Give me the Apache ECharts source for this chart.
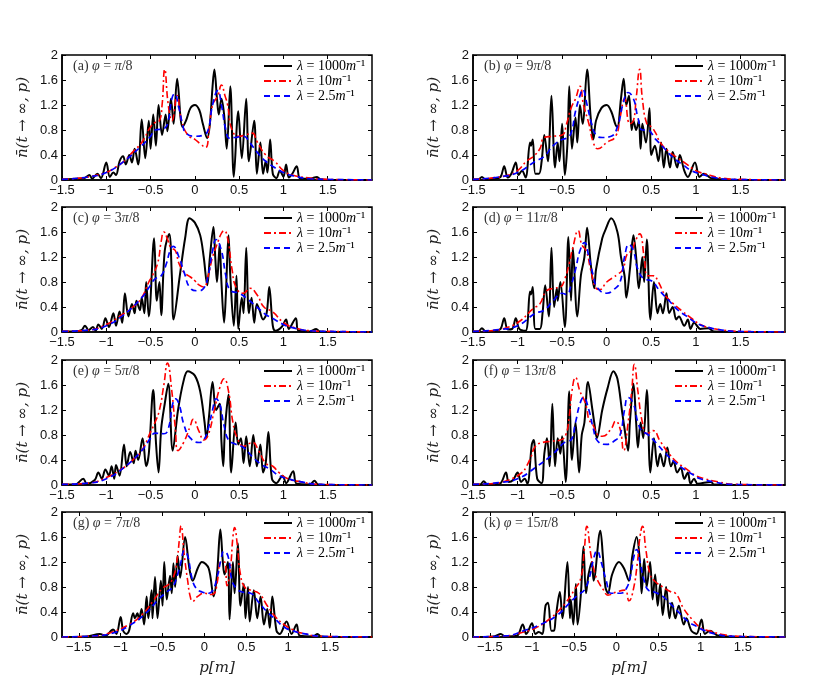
<!DOCTYPE html>
<html>
<head>
<meta charset="utf-8">
<title>n(t, p) panels</title>
<script src="https://cdn.jsdelivr.net/npm/echarts@6.0.0/dist/echarts.min.js"></script>
</head>
<body style="margin:0;padding:0;background:#fff;">
<div id="main" style="width:830px;height:692px;"></div>
<script type="text/javascript">
// tick labels
var xTicks = [-1.5, -1, -0.5, 0, 0.5, 1, 1.5];
var seriesNames = ['λ = 1000m⁻¹', 'λ = 10m⁻¹', 'λ = 2.5m⁻¹'];
var panelLabels = ['(a) {i|φ} = {i|π}/8', '(b) {i|φ} = 9{i|π}/8', '(c) {i|φ} = 3{i|π}/8', '(d) {i|φ} = 11{i|π}/8',
                   '(e) {i|φ} = 5{i|π}/8', '(f) {i|φ} = 13{i|π}/8', '(g) {i|φ} = 7{i|π}/8', '(k) {i|φ} = 15{i|π}/8'];

// (a)
var blackA = [[-1.5,0.01],[-1.35,0.02],[-1.25,0.03],[-1.19,0.08],[-1.16,0.02],[-1.1,0.1],[-1.06,0.03],[-1.0,0.28],[-0.96,0.05],[-0.92,0.12],[-0.89,0.08],[-0.85,0.3],[-0.81,0.38],[-0.78,0.25],[-0.74,0.4],[-0.71,0.28],[-0.68,0.5],[-0.64,0.25],[-0.6,0.97],[-0.56,0.35],[-0.52,0.95],[-0.5,0.5],[-0.47,1.05],[-0.44,0.55],[-0.41,1.2],[-0.37,0.72],[-0.33,1.05],[-0.31,0.78],[-0.27,1.3],[-0.24,0.9],[-0.2,1.62],[-0.14,0.85],[-0.1,0.95],[-0.05,1.15],[0.0,1.2],[0.05,1.12],[0.09,0.9],[0.14,0.67],[0.17,0.9],[0.2,1.5],[0.22,1.77],[0.25,1.3],[0.27,1.05],[0.3,1.3],[0.33,1.05],[0.36,0.5],[0.4,1.5],[0.44,0.05],[0.49,1.1],[0.53,0.35],[0.58,1.3],[0.61,0.3],[0.67,0.95],[0.7,0.1],[0.74,0.6],[0.77,0.1],[0.8,0.3],[0.82,0.12],[0.85,0.65],[0.88,0.1],[0.92,0.03],[0.96,0.15],[1.0,0.05],[1.03,0.25],[1.06,0.04],[1.1,0.1],[1.15,0.22],[1.19,0.02],[1.3,0.02],[1.38,0.05],[1.42,0.01],[1.6,0],[2.0,0]];
var redA = [[-1.5,0.01],[-1.3,0.03],[-1.2,0.05],[-1.0,0.12],[-0.9,0.2],[-0.8,0.3],[-0.7,0.45],[-0.6,0.6],[-0.5,0.85],[-0.45,0.92],[-0.4,0.95],[-0.37,1.2],[-0.34,1.77],[-0.3,1.2],[-0.26,0.95],[-0.2,1.35],[-0.15,0.95],[-0.08,0.72],[0,0.65],[0.06,0.58],[0.12,0.52],[0.16,0.8],[0.2,1.2],[0.26,1.35],[0.3,1.52],[0.34,1.35],[0.37,1.2],[0.42,0.8],[0.5,0.7],[0.57,0.72],[0.65,0.75],[0.7,0.62],[0.8,0.4],[0.9,0.3],[1.0,0.15],[1.1,0.08],[1.3,0.03],[1.5,0.01],[2,0]];
var blueA = [[-1.5,0.01],[-1.2,0.05],[-1.0,0.12],[-0.8,0.3],[-0.6,0.55],[-0.5,0.7],[-0.45,0.8],[-0.35,0.82],[-0.3,0.95],[-0.26,1.3],[-0.23,1.38],[-0.18,1.15],[-0.14,0.9],[-0.1,0.75],[0,0.7],[0.1,0.72],[0.15,0.8],[0.2,1.2],[0.26,1.43],[0.3,1.2],[0.35,0.8],[0.39,0.67],[0.45,0.68],[0.55,0.7],[0.62,0.6],[0.7,0.45],[0.8,0.3],[0.9,0.2],[1.0,0.12],[1.1,0.07],[1.3,0.02],[1.5,0.01],[2,0]];

// (b)
var blackB = [[-1.5,0.01],[-1.44,0.01],[-1.4,0.05],[-1.36,0.01],[-1.25,0.02],[-1.19,0.05],[-1.15,0.22],[-1.11,0.04],[-1.07,0.1],[-1.02,0.28],[-0.99,0.08],[-0.95,0.15],[-0.91,0.04],[-0.86,0.6],[-0.85,0.55],[-0.83,0.65],[-0.8,0.1],[-0.76,0.1],[-0.73,0.3],[-0.7,0.72],[-0.66,0.3],[-0.62,1.35],[-0.58,0.2],[-0.55,0.6],[-0.53,0.3],[-0.5,0.9],[-0.47,0.08],[-0.44,0.6],[-0.42,1.5],[-0.39,0.5],[-0.35,1.0],[-0.33,0.6],[-0.3,1.2],[-0.27,0.9],[-0.22,1.77],[-0.18,1.0],[-0.15,0.65],[-0.12,0.95],[-0.06,1.15],[0.0,1.2],[0.05,1.1],[0.1,0.88],[0.12,0.85],[0.16,1.3],[0.19,1.62],[0.22,1.2],[0.25,1.35],[0.28,0.8],[0.3,0.95],[0.33,0.8],[0.36,0.95],[0.38,0.5],[0.4,0.9],[0.44,0.6],[0.48,1.15],[0.5,0.4],[0.54,0.55],[0.58,0.3],[0.61,0.6],[0.64,0.2],[0.67,0.5],[0.71,0.2],[0.74,0.45],[0.79,0.2],[0.82,0.4],[0.87,0.15],[0.91,0.05],[0.99,0.28],[1.04,0.05],[1.09,0.1],[1.17,0.03],[1.3,0.01],[1.6,0],[2.0,0]];
var redB = [[-1.5,0.01],[-1.3,0.03],[-1.1,0.08],[-1.0,0.15],[-0.9,0.3],[-0.82,0.38],[-0.75,0.5],[-0.7,0.68],[-0.6,0.7],[-0.5,0.72],[-0.45,0.9],[-0.4,1.15],[-0.35,1.3],[-0.3,1.5],[-0.26,1.2],[-0.2,0.9],[-0.15,0.6],[-0.1,0.5],[0,0.6],[0.1,0.7],[0.15,1.0],[0.2,1.3],[0.26,0.9],[0.3,0.95],[0.33,1.3],[0.37,1.77],[0.4,1.3],[0.45,0.9],[0.5,0.85],[0.55,0.75],[0.6,0.6],[0.7,0.45],[0.8,0.35],[0.9,0.25],[1.0,0.15],[1.1,0.1],[1.3,0.03],[1.5,0.01],[2,0]];
var blueB = [[-1.5,0.01],[-1.2,0.05],[-1.0,0.12],[-0.8,0.3],[-0.7,0.38],[-0.6,0.55],[-0.5,0.65],[-0.45,0.67],[-0.4,0.75],[-0.35,1.1],[-0.3,1.35],[-0.27,1.45],[-0.22,1.2],[-0.17,0.9],[-0.12,0.72],[-0.05,0.68],[0.05,0.7],[0.12,0.85],[0.18,1.2],[0.24,1.4],[0.3,1.3],[0.35,1.0],[0.4,0.8],[0.45,0.8],[0.55,0.65],[0.65,0.5],[0.75,0.35],[0.85,0.25],[0.95,0.15],[1.05,0.1],[1.2,0.04],[1.4,0.01],[2,0]];

// (c)
var blackC = [[-1.5,0.01],[-1.35,0.01],[-1.28,0.03],[-1.24,0.1],[-1.2,0.03],[-1.15,0.08],[-1.12,0.02],[-1.09,0.12],[-1.05,0.05],[-1.01,0.22],[-0.97,0.08],[-0.92,0.3],[-0.89,0.1],[-0.85,0.33],[-0.82,0.15],[-0.79,0.62],[-0.75,0.25],[-0.71,0.45],[-0.68,0.3],[-0.66,0.5],[-0.62,0.35],[-0.6,0.55],[-0.57,0.3],[-0.55,0.8],[-0.52,0.25],[-0.46,1.5],[-0.43,0.5],[-0.4,0.8],[-0.38,0.27],[-0.34,1.3],[-0.29,1.57],[-0.26,0.9],[-0.24,0.2],[-0.17,0.9],[-0.11,1.5],[-0.06,1.82],[0.0,1.75],[0.06,1.55],[0.1,1.2],[0.14,0.75],[0.17,1.2],[0.21,1.68],[0.23,1.2],[0.25,0.8],[0.27,1.2],[0.28,1.4],[0.3,0.8],[0.33,0.15],[0.35,0.6],[0.38,1.55],[0.4,0.9],[0.44,0.1],[0.47,0.9],[0.49,0.05],[0.53,0.55],[0.55,0.3],[0.58,1.35],[0.61,0.3],[0.64,0.55],[0.67,0.15],[0.7,0.45],[0.73,0.35],[0.77,0.2],[0.81,0.3],[0.84,0.72],[0.88,0.1],[0.91,0.02],[0.98,0.08],[1.03,0.2],[1.06,0.05],[1.14,0.22],[1.17,0.02],[1.3,0.01],[1.37,0.05],[1.41,0.01],[1.6,0],[2.0,0]];
var redC = [[-1.5,0.01],[-1.2,0.03],[-1.0,0.12],[-0.85,0.25],[-0.7,0.4],[-0.6,0.55],[-0.52,0.8],[-0.48,0.9],[-0.42,1.1],[-0.38,1.45],[-0.35,1.6],[-0.3,1.45],[-0.27,1.35],[-0.22,1.3],[-0.18,1.1],[-0.12,0.95],[-0.05,0.88],[0,0.82],[0.05,0.75],[0.1,0.72],[0.15,0.9],[0.2,1.2],[0.25,1.4],[0.3,1.58],[0.33,1.62],[0.37,1.5],[0.42,1.0],[0.47,0.7],[0.55,0.62],[0.62,0.7],[0.7,0.6],[0.78,0.4],[0.88,0.32],[1.0,0.15],[1.1,0.08],[1.3,0.02],[1.5,0.01],[2,0]];
var blueC = [[-1.5,0.01],[-1.2,0.03],[-1.0,0.1],[-0.8,0.28],[-0.6,0.55],[-0.5,0.75],[-0.45,0.85],[-0.38,0.9],[-0.32,1.1],[-0.28,1.3],[-0.245,1.37],[-0.18,1.2],[-0.12,0.95],[-0.05,0.7],[0.03,0.66],[0.1,0.7],[0.15,0.9],[0.2,1.3],[0.24,1.48],[0.3,1.3],[0.35,0.9],[0.4,0.67],[0.5,0.62],[0.6,0.52],[0.7,0.4],[0.8,0.28],[0.9,0.2],[1.0,0.12],[1.1,0.07],[1.3,0.02],[1.5,0.01],[2,0]];

// (d)
var blackD = [[-1.5,0.01],[-1.44,0.01],[-1.4,0.06],[-1.36,0.01],[-1.25,0.02],[-1.19,0.05],[-1.15,0.22],[-1.11,0.04],[-1.06,0.05],[-1.02,0.22],[-0.98,0.05],[-0.91,0.02],[-0.86,0.65],[-0.85,0.6],[-0.83,0.72],[-0.8,0.05],[-0.75,0.05],[-0.72,0.3],[-0.69,0.75],[-0.65,0.25],[-0.62,1.35],[-0.59,0.4],[-0.56,0.7],[-0.55,0.5],[-0.52,0.8],[-0.47,0.08],[-0.43,1.52],[-0.4,0.5],[-0.38,1.35],[-0.33,0.25],[-0.29,0.9],[-0.25,1.2],[-0.22,1.67],[-0.18,1.1],[-0.14,0.7],[-0.12,1.0],[-0.05,1.5],[-0.01,1.65],[0.05,1.82],[0.12,1.6],[0.16,1.2],[0.2,0.9],[0.22,0.55],[0.26,1.0],[0.3,1.55],[0.33,1.2],[0.36,0.7],[0.4,1.2],[0.42,0.8],[0.45,1.48],[0.49,0.2],[0.53,0.8],[0.57,0.3],[0.6,0.45],[0.63,0.3],[0.67,0.62],[0.7,0.3],[0.74,0.4],[0.78,0.2],[0.81,0.25],[0.87,0.1],[0.91,0.2],[0.94,0.05],[0.98,0.15],[1.05,0.05],[1.14,0.06],[1.2,0.01],[1.6,0],[2.0,0]];
var redD = [[-1.5,0.01],[-1.3,0.02],[-1.1,0.08],[-0.95,0.2],[-0.88,0.3],[-0.82,0.38],[-0.75,0.45],[-0.68,0.65],[-0.6,0.7],[-0.52,0.72],[-0.47,0.85],[-0.42,1.1],[-0.38,1.35],[-0.32,1.62],[-0.28,1.4],[-0.23,1.3],[-0.18,1.0],[-0.12,0.7],[-0.08,0.68],[0,0.8],[0.08,0.88],[0.12,0.92],[0.18,1.0],[0.23,1.25],[0.28,1.3],[0.32,1.45],[0.37,1.57],[0.42,1.2],[0.46,0.9],[0.52,0.9],[0.58,0.8],[0.65,0.6],[0.75,0.45],[0.85,0.33],[0.95,0.22],[1.05,0.12],[1.15,0.07],[1.3,0.03],[1.5,0.01],[2,0]];
var blueD = [[-1.5,0.01],[-1.2,0.04],[-1.0,0.1],[-0.8,0.3],[-0.7,0.35],[-0.6,0.5],[-0.5,0.62],[-0.45,0.6],[-0.4,0.75],[-0.35,1.0],[-0.3,1.3],[-0.25,1.43],[-0.2,1.2],[-0.15,0.9],[-0.1,0.7],[0,0.62],[0.08,0.68],[0.15,0.8],[0.2,1.2],[0.25,1.4],[0.3,1.3],[0.35,1.0],[0.42,0.85],[0.5,0.82],[0.6,0.65],[0.7,0.5],[0.8,0.35],[0.9,0.25],[1.0,0.15],[1.1,0.09],[1.25,0.04],[1.45,0.01],[2,0]];

// (e)
var blackE = [[-1.5,0.01],[-1.35,0.01],[-1.26,0.1],[-1.22,0.02],[-1.13,0.08],[-1.09,0.2],[-1.05,0.1],[-1.01,0.25],[-0.97,0.15],[-0.94,0.3],[-0.91,0.1],[-0.89,0.32],[-0.85,0.15],[-0.8,0.65],[-0.77,0.3],[-0.73,0.53],[-0.69,0.35],[-0.67,0.55],[-0.64,0.4],[-0.59,0.75],[-0.55,0.3],[-0.52,0.5],[-0.47,1.52],[-0.44,0.7],[-0.41,0.2],[-0.38,0.9],[-0.34,1.3],[-0.3,1.62],[-0.25,0.55],[-0.19,1.2],[-0.13,1.65],[-0.08,1.82],[0.0,1.75],[0.06,1.5],[0.11,1.0],[0.13,0.75],[0.16,1.1],[0.2,1.65],[0.24,1.2],[0.28,1.3],[0.3,0.7],[0.32,0.3],[0.34,0.9],[0.38,1.45],[0.41,0.2],[0.46,1.0],[0.49,0.65],[0.52,0.75],[0.55,0.35],[0.58,0.78],[0.62,0.3],[0.66,0.8],[0.7,0.3],[0.74,0.65],[0.77,0.2],[0.8,0.35],[0.83,0.85],[0.87,0.1],[0.92,0.03],[0.99,0.15],[1.03,0.03],[1.11,0.22],[1.15,0.02],[1.3,0.01],[1.35,0.07],[1.39,0.01],[1.6,0],[2.0,0]];
var redE = [[-1.5,0.01],[-1.2,0.03],[-1.0,0.12],[-0.8,0.28],[-0.7,0.4],[-0.6,0.55],[-0.5,0.85],[-0.45,1.0],[-0.4,1.2],[-0.35,1.6],[-0.31,1.95],[-0.26,1.5],[-0.22,0.9],[-0.19,0.55],[-0.12,0.7],[-0.05,0.95],[-0.02,1.05],[0.05,0.85],[0.1,0.72],[0.15,0.8],[0.22,1.2],[0.28,1.55],[0.33,1.7],[0.38,1.5],[0.43,1.0],[0.48,0.75],[0.55,0.62],[0.65,0.68],[0.72,0.55],[0.8,0.35],[0.88,0.3],[0.95,0.2],[1.05,0.1],[1.2,0.05],[1.4,0.01],[2,0]];
var blueE = [[-1.5,0.01],[-1.2,0.03],[-1.0,0.1],[-0.8,0.28],[-0.6,0.55],[-0.5,0.75],[-0.45,0.83],[-0.35,0.82],[-0.3,0.9],[-0.25,1.3],[-0.22,1.38],[-0.18,1.3],[-0.12,0.95],[-0.05,0.75],[0.05,0.68],[0.1,0.72],[0.15,0.9],[0.2,1.2],[0.24,1.38],[0.28,1.3],[0.33,0.95],[0.38,0.72],[0.45,0.66],[0.55,0.6],[0.65,0.45],[0.75,0.33],[0.85,0.25],[0.95,0.15],[1.05,0.1],[1.2,0.05],[1.4,0.01],[2,0]];

// (f)
var blackF = [[-1.5,0.01],[-1.42,0.01],[-1.38,0.06],[-1.34,0.01],[-1.2,0.02],[-1.13,0.2],[-1.1,0.05],[-1.05,0.08],[-1.0,0.2],[-0.96,0.05],[-0.92,0.1],[-0.89,0.02],[-0.84,0.65],[-0.82,0.72],[-0.78,0.1],[-0.73,0.03],[-0.7,0.5],[-0.67,0.75],[-0.64,0.3],[-0.61,1.3],[-0.58,0.3],[-0.55,0.75],[-0.52,0.5],[-0.5,0.78],[-0.46,0.05],[-0.42,1.5],[-0.39,0.4],[-0.35,1.0],[-0.31,0.2],[-0.28,0.8],[-0.25,1.0],[-0.21,1.65],[-0.16,1.2],[-0.14,1.0],[-0.11,0.75],[-0.05,1.2],[0.01,1.55],[0.075,1.82],[0.12,1.7],[0.17,1.2],[0.2,0.9],[0.24,0.55],[0.26,1.0],[0.3,1.62],[0.33,1.0],[0.35,0.6],[0.38,1.0],[0.41,0.75],[0.45,1.52],[0.49,0.2],[0.53,0.75],[0.57,0.3],[0.6,0.5],[0.64,0.3],[0.68,0.6],[0.72,0.3],[0.75,0.38],[0.79,0.2],[0.83,0.28],[0.87,0.1],[0.91,0.2],[0.94,0.02],[0.98,0.1],[1.02,0.02],[1.17,0.05],[1.2,0.01],[1.6,0],[2.0,0]];
var redF = [[-1.5,0.01],[-1.3,0.02],[-1.1,0.08],[-0.95,0.2],[-0.9,0.3],[-0.85,0.45],[-0.8,0.62],[-0.72,0.68],[-0.62,0.7],[-0.52,0.72],[-0.46,0.8],[-0.42,1.1],[-0.39,1.5],[-0.35,1.72],[-0.3,1.5],[-0.25,1.35],[-0.22,1.2],[-0.2,1.05],[-0.15,0.95],[-0.1,0.8],[-0.05,0.78],[0.05,0.9],[0.1,1.02],[0.15,0.9],[0.19,0.55],[0.24,1.0],[0.28,1.5],[0.31,1.93],[0.35,1.5],[0.4,1.0],[0.45,0.82],[0.52,0.87],[0.6,0.7],[0.7,0.5],[0.8,0.35],[0.9,0.25],[1.0,0.15],[1.1,0.1],[1.25,0.05],[1.45,0.01],[2,0]];
var blueF = [[-1.5,0.01],[-1.2,0.04],[-1.0,0.1],[-0.8,0.28],[-0.6,0.5],[-0.5,0.65],[-0.45,0.7],[-0.4,0.72],[-0.35,1.0],[-0.3,1.3],[-0.26,1.4],[-0.2,1.2],[-0.15,0.9],[-0.1,0.7],[0,0.65],[0.1,0.72],[0.15,0.8],[0.2,1.2],[0.24,1.4],[0.3,1.3],[0.35,1.0],[0.4,0.85],[0.45,0.82],[0.55,0.68],[0.65,0.52],[0.75,0.38],[0.85,0.27],[0.95,0.18],[1.05,0.1],[1.2,0.05],[1.4,0.01],[2,0]];

// (g)
var blackG = [[-1.7,0],[-1.4,0.01],[-1.25,0.05],[-1.18,0.02],[-1.09,0.12],[-1.05,0.05],[-1.0,0.32],[-0.97,0.1],[-0.93,0.05],[-0.9,0.1],[-0.85,0.38],[-0.83,0.3],[-0.8,0.38],[-0.78,0.28],[-0.75,0.45],[-0.72,0.2],[-0.69,0.65],[-0.67,0.3],[-0.63,0.75],[-0.62,0.3],[-0.59,0.96],[-0.56,0.3],[-0.52,0.9],[-0.5,0.5],[-0.48,1.2],[-0.45,0.6],[-0.41,0.98],[-0.39,0.7],[-0.37,1.18],[-0.35,0.8],[-0.32,1.3],[-0.29,0.95],[-0.23,1.6],[-0.18,1.1],[-0.14,0.9],[-0.08,1.1],[-0.03,1.2],[0.05,1.1],[0.11,0.65],[0.15,1.0],[0.19,1.72],[0.22,1.2],[0.24,1.0],[0.28,1.2],[0.3,0.28],[0.34,1.2],[0.36,0.7],[0.4,1.5],[0.43,0.5],[0.47,0.85],[0.49,0.3],[0.52,0.8],[0.54,0.25],[0.59,0.75],[0.63,0.3],[0.67,0.65],[0.71,0.2],[0.75,0.45],[0.78,0.15],[0.81,0.65],[0.86,0.1],[0.9,0.05],[0.98,0.25],[1.04,0.05],[1.1,0.2],[1.14,0.02],[1.3,0.01],[1.35,0.05],[1.39,0.01],[1.6,0],[2.0,0]];
var redG = [[-1.7,0],[-1.3,0.02],[-1.1,0.08],[-0.9,0.2],[-0.75,0.35],[-0.6,0.6],[-0.5,0.78],[-0.42,0.85],[-0.36,1.0],[-0.32,1.3],[-0.3,1.55],[-0.28,1.78],[-0.24,1.3],[-0.2,0.9],[-0.17,0.65],[-0.14,0.57],[-0.08,0.65],[0,0.7],[0.08,0.68],[0.12,0.7],[0.15,0.85],[0.2,1.2],[0.24,1.2],[0.27,0.82],[0.31,1.1],[0.34,1.6],[0.36,1.75],[0.39,1.5],[0.43,1.0],[0.48,0.8],[0.55,0.75],[0.65,0.7],[0.75,0.5],[0.85,0.32],[0.95,0.2],[1.05,0.12],[1.2,0.05],[1.4,0.01],[2,0]];
var blueG = [[-1.7,0],[-1.3,0.02],[-1.1,0.06],[-0.9,0.18],[-0.7,0.38],[-0.55,0.6],[-0.45,0.72],[-0.38,0.8],[-0.32,1.0],[-0.28,1.2],[-0.24,1.38],[-0.2,1.3],[-0.15,0.95],[-0.1,0.78],[-0.03,0.72],[0.05,0.7],[0.1,0.75],[0.15,0.95],[0.2,1.25],[0.23,1.37],[0.28,1.3],[0.33,0.9],[0.38,0.78],[0.45,0.72],[0.55,0.7],[0.65,0.55],[0.75,0.4],[0.85,0.28],[0.95,0.16],[1.05,0.1],[1.2,0.05],[1.4,0.01],[2,0]];

// (k)
var blackK = [[-1.7,0],[-1.45,0.01],[-1.37,0.05],[-1.32,0.01],[-1.18,0.02],[-1.11,0.2],[-1.07,0.05],[-1.05,0.08],[-1.0,0.22],[-0.96,0.05],[-0.92,0.08],[-0.88,0.05],[-0.84,0.5],[-0.81,0.55],[-0.77,0.1],[-0.74,0.1],[-0.72,0.3],[-0.67,0.72],[-0.64,0.3],[-0.58,1.2],[-0.55,0.3],[-0.54,0.6],[-0.51,0.2],[-0.48,0.85],[-0.46,0.2],[-0.42,0.7],[-0.39,1.45],[-0.36,0.7],[-0.33,1.0],[-0.29,1.2],[-0.27,0.9],[-0.19,1.7],[-0.16,1.3],[-0.13,0.8],[-0.1,0.7],[-0.05,1.0],[0.03,1.2],[0.09,1.1],[0.15,0.9],[0.19,1.3],[0.24,1.6],[0.28,1.2],[0.3,0.7],[0.33,1.25],[0.36,0.8],[0.4,1.2],[0.43,0.6],[0.46,1.0],[0.49,0.5],[0.52,0.85],[0.55,0.35],[0.59,0.8],[0.63,0.3],[0.66,0.55],[0.7,0.3],[0.74,0.5],[0.8,0.2],[0.83,0.3],[0.89,0.1],[0.95,0.05],[1.01,0.28],[1.05,0.05],[1.11,0.1],[1.19,0.03],[1.3,0.01],[1.6,0],[2.0,0]];
var redK = [[-1.7,0],[-1.3,0.02],[-1.1,0.08],[-0.95,0.15],[-0.8,0.28],[-0.7,0.4],[-0.6,0.55],[-0.5,0.75],[-0.42,0.95],[-0.38,1.4],[-0.35,1.77],[-0.3,1.3],[-0.25,1.0],[-0.2,0.85],[-0.15,0.75],[-0.1,0.67],[0,0.72],[0.1,0.75],[0.15,0.58],[0.2,0.75],[0.25,1.2],[0.28,1.6],[0.31,1.77],[0.35,1.4],[0.4,1.0],[0.45,0.9],[0.55,0.8],[0.65,0.72],[0.7,0.7],[0.8,0.45],[0.9,0.28],[1.0,0.15],[1.1,0.1],[1.3,0.03],[1.5,0.01],[2,0]];
var blueK = [[-1.7,0],[-1.3,0.02],[-1.1,0.1],[-0.9,0.2],[-0.7,0.35],[-0.55,0.55],[-0.45,0.68],[-0.38,0.75],[-0.32,0.95],[-0.27,1.25],[-0.23,1.38],[-0.18,1.2],[-0.12,0.9],[-0.06,0.7],[0.05,0.7],[0.12,0.78],[0.17,1.0],[0.21,1.3],[0.24,1.4],[0.28,1.2],[0.33,0.9],[0.38,0.75],[0.45,0.72],[0.55,0.65],[0.65,0.52],[0.75,0.38],[0.85,0.25],[0.95,0.17],[1.05,0.1],[1.2,0.04],[1.4,0.01],[2,0]];

var blackAll = [blackA, blackB, blackC, blackD, blackE, blackF, blackG, blackK];
var redAll = [redA, redB, redC, redD, redE, redF, redG, redK];
var blueAll = [blueA, blueB, blueC, blueD, blueE, blueF, blueG, blueK];

// layout
var colLeft = [62, 473];
var colWidth = [310, 312];
var rowTop = [55, 207, 360, 512];
var plotH = 125;
var serif = 'Liberation Serif';
var serifWide = 'DejaVu Serif';
var sans = 'Liberation Sans';

var myChart = echarts.init(document.getElementById('main'), null, {renderer: 'canvas'});

var grids = [], xAxes = [], yAxes = [], series = [], titles = [], legends = [];

function fmtMinus(v) {
    return String(v).replace('-', '\u2212');
}
// λ and m in italic, like the LaTeX legend
function legendText(name) {
    return name.replace('λ', '{i|λ}').replace('m⁻¹', '{i|m}⁻¹');
}

for (var i = 0; i < 8; i++) {
    var col = i % 2, row = Math.floor(i / 2);
    var bottomRow = row === 3;
    grids.push({
        left: colLeft[col], top: rowTop[row], width: colWidth[col], height: plotH,
        show: true, borderColor: '#000', borderWidth: 1.5, backgroundColor: '#fff'
    });
    // bottom x axis
    xAxes.push({
        gridIndex: i, type: 'value', position: 'bottom',
        min: bottomRow ? -1.7 : -1.5, max: 2,
        splitLine: {show: false},
        axisLine: {show: true, onZero: false, lineStyle: {color: '#000', width: 1.5}},
        axisTick: {show: true, inside: true, length: 4, customValues: xTicks, lineStyle: {color: '#000'}},
        axisLabel: {customValues: xTicks, formatter: fmtMinus, color: '#111', fontFamily: sans, fontSize: 13, margin: 4},
        name: bottomRow ? 'p[m]' : '', nameLocation: 'middle', nameGap: 24,
        nameTextStyle: {fontFamily: serifWide, fontStyle: 'italic', fontSize: 15, color: '#222'}
    });
    // top x axis, ticks only
    xAxes.push({
        gridIndex: i, type: 'value', position: 'top',
        min: bottomRow ? -1.7 : -1.5, max: 2,
        splitLine: {show: false},
        axisLine: {show: false, onZero: false},
        axisTick: {show: true, inside: true, length: 4, customValues: xTicks, lineStyle: {color: '#000'}},
        axisLabel: {show: false}
    });
    yAxes.push({
        gridIndex: i, type: 'value', position: 'left',
        min: 0, max: 2, interval: 0.4,
        splitLine: {show: false},
        axisLine: {show: true, onZero: false, lineStyle: {color: '#000', width: 1.5}},
        axisTick: {show: true, inside: true, length: 4, lineStyle: {color: '#000'}},
        axisLabel: {color: '#111', fontFamily: sans, fontSize: 13, margin: 4},
        name: 'n\u0304(t \u2192 \u221E, p)', nameLocation: 'middle', nameGap: 31, nameRotate: 90,
        nameTextStyle: {fontFamily: serifWide, fontStyle: 'italic', fontSize: 15, color: '#222'}
    });
    yAxes.push({
        gridIndex: i, type: 'value', position: 'right',
        min: 0, max: 2, interval: 0.4,
        splitLine: {show: false},
        axisLine: {show: false, onZero: false},
        axisTick: {show: true, inside: true, length: 4, lineStyle: {color: '#000'}},
        axisLabel: {show: false}
    });

    var lines = [
        {data: blackAll[i], color: '#000000', width: 2, type: 'solid'},
        {data: redAll[i], color: '#ff0000', width: 1.6, type: [7, 3, 2, 3]},
        {data: blueAll[i], color: '#0000ff', width: 1.7, type: [6, 4]}
    ];
    for (var s = 0; s < 3; s++) {
        series.push({
            type: 'line', name: seriesNames[s],
            xAxisIndex: i * 2, yAxisIndex: i * 2,
            data: lines[s].data,
            showSymbol: false, symbol: 'none',
            smooth: s === 0 ? 0.35 : 0.5,
            lineStyle: {color: lines[s].color, width: lines[s].width, type: lines[s].type},
            itemStyle: {color: lines[s].color},
            z: 2 + s
        });
    }

    titles.push({
        text: panelLabels[i],
        left: colLeft[col] + 6, top: rowTop[row] - 1,
        textStyle: {fontFamily: serif, fontSize: 14, fontWeight: 'normal', color: '#333',
            rich: {i: {fontFamily: serif, fontStyle: 'italic', fontSize: 14, color: '#333'}}}
    });
    legends.push({
        orient: 'vertical',
        left: colLeft[col] + 196, top: rowTop[row] - 1,
        itemWidth: 28, itemHeight: 10, itemGap: 1,
        data: seriesNames,
        selectedMode: false,
        itemStyle: {opacity: 0},
        formatter: legendText,
        textStyle: {fontFamily: serif, fontSize: 14, color: '#000',
            rich: {i: {fontFamily: serif, fontStyle: 'italic', fontSize: 14, color: '#000'}}}
    });
}

var option = {
    animation: false,
    backgroundColor: '#fff',
    title: titles,
    legend: legends,
    grid: grids,
    xAxis: xAxes,
    yAxis: yAxes,
    series: series
};
myChart.setOption(option);
</script>
</body>
</html>
